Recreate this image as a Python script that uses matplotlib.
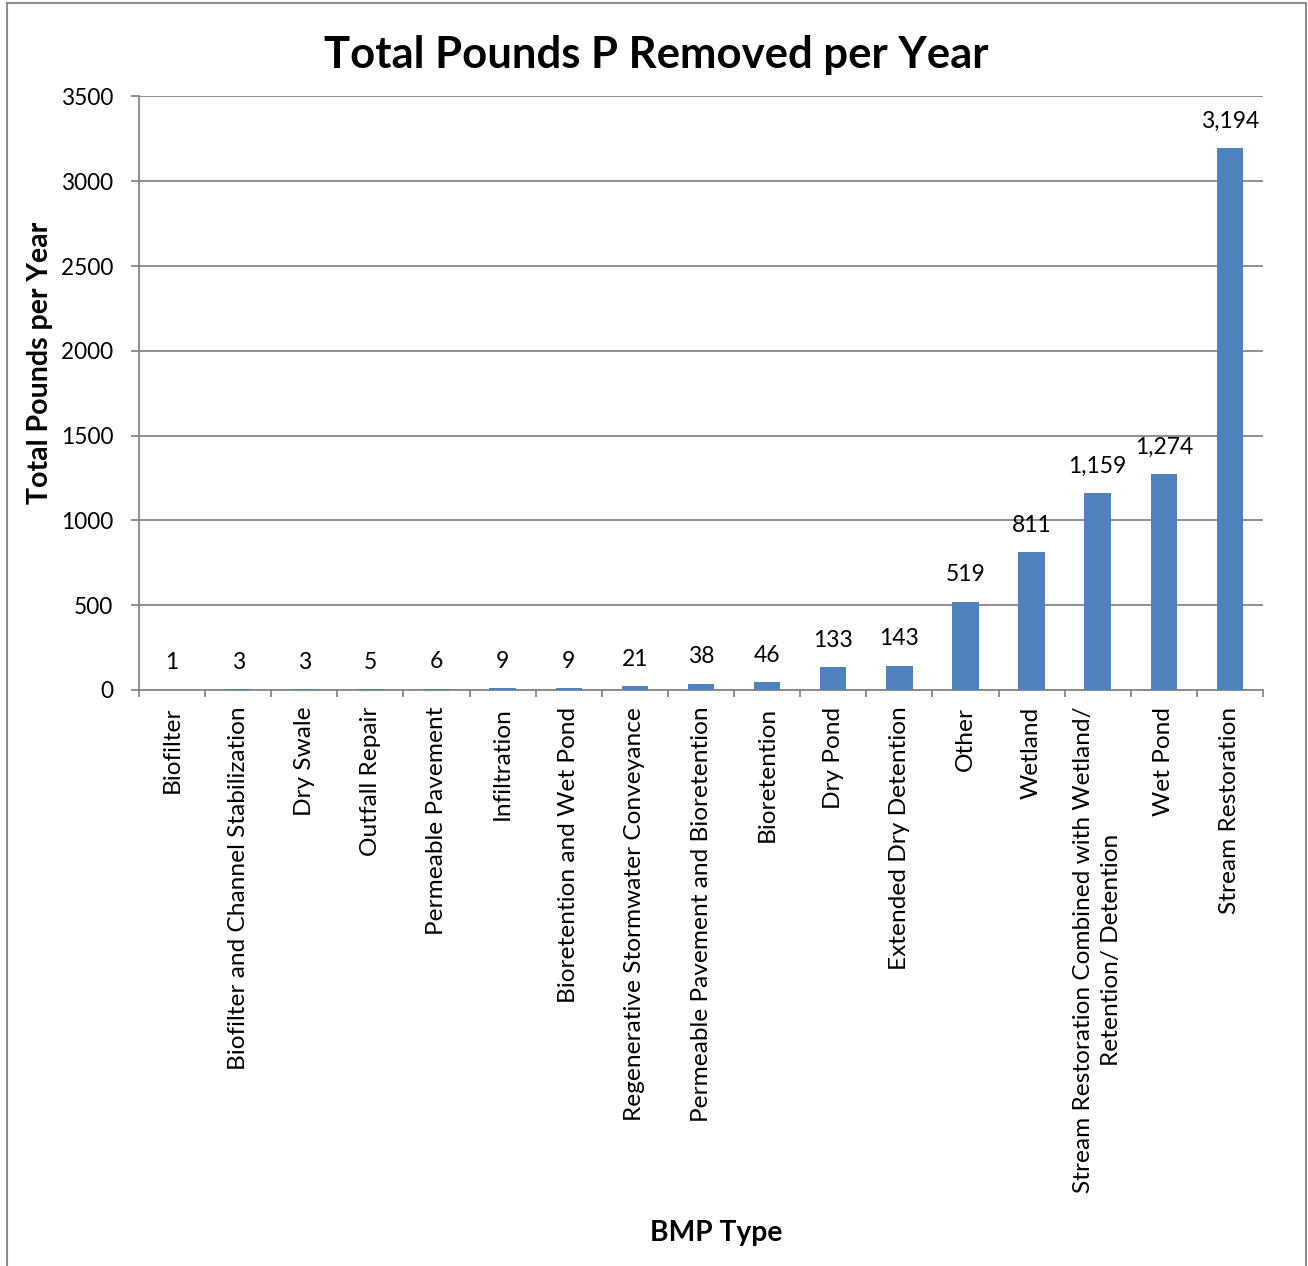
import matplotlib
matplotlib.use("Agg")
import matplotlib.pyplot as plt
from matplotlib.patches import Rectangle
import numpy as np

plt.rcParams['font.family'] = ['Lato', 'DejaVu Sans']

categories = [
    "Biofilter", "Biofilter and Channel Stabilization", "Dry Swale", "Outfall Repair",
    "Permeable Pavement", "Infiltration", "Bioretention and Wet Pond",
    "Regenerative Stormwater Conveyance", "Permeable Pavement and Bioretention",
    "Bioretention", "Dry Pond", "Extended Dry Detention", "Other", "Wetland",
    "Stream Restoration Combined with Wetland/\nRetention/ Detention", "Wet Pond",
    "Stream Restoration",
]
values = [1, 3, 3, 5, 6, 9, 9, 21, 38, 46, 133, 143, 519, 811, 1159, 1274, 3194]
yticks = [0, 500, 1000, 1500, 2000, 2500, 3000, 3500]

W, H = 1308, 1266
fig = plt.figure(figsize=(W / 100, H / 100), dpi=100)

# figure border
fig.patches.append(Rectangle((7 / W, -0.01), (1306 - 7) / W, (H - 3) / H + 0.01,
                             transform=fig.transFigure, fill=False,
                             edgecolor='#8c8c8c', linewidth=1.5))

left, right, top, bottom = 139, 1263, 96.5, 690
ax = fig.add_axes([left / W, 1 - bottom / H, (right - left) / W, (bottom - top) / H])

x = np.arange(len(categories))
bar_color = '#4F81BD'
ax.bar(x, values, width=0.4, color=bar_color, zorder=3)

ax.set_xlim(-0.5, len(categories) - 0.5)
ax.set_ylim(0, 3500)
ax.set_yticks(yticks)
ax.set_yticklabels([str(v) for v in yticks], fontsize=16.3)
ax.yaxis.grid(True, color='#868686', linewidth=1.3, zorder=0)
ax.set_axisbelow(True)

ax.set_xticks(x)
ax.set_xticklabels(categories, rotation=90, fontsize=17.6, va='top', ha='center',
                   multialignment='center', linespacing=1.4)
ax.set_xticks(np.arange(len(categories) + 1) - 0.5, minor=True)
ax.tick_params(axis='x', which='major', length=0, pad=12)
ax.tick_params(axis='x', which='minor', length=5, width=1.3, color='#868686')
ax.tick_params(axis='y', length=5.5, width=1.3, color='#868686', pad=13)

for s in ['top', 'right']:
    ax.spines[s].set_visible(False)
for s in ['left', 'bottom']:
    ax.spines[s].set_color('#868686')
    ax.spines[s].set_linewidth(1.3)

for xi, v in zip(x, values):
    ax.annotate(f"{v:,}", (xi, v), xytext=(0, 19.5), textcoords='offset points',
                ha='center', va='center', fontsize=16.5)

fig.text(656 / W, 1 - 55 / H, "Total Pounds P Removed per Year", ha='center', va='center',
         fontsize=31.4, fontweight='bold')
fig.text(40 / W, 1 - 363 / H, "Total Pounds per Year", ha='center', va='center',
         rotation=90, fontsize=20.5, fontweight='bold')
fig.text(716 / W, 1 - 1233 / H, "BMP Type", ha='center', va='center',
         fontsize=20.3, fontweight='bold')

fig.savefig("out.png", dpi=100)
